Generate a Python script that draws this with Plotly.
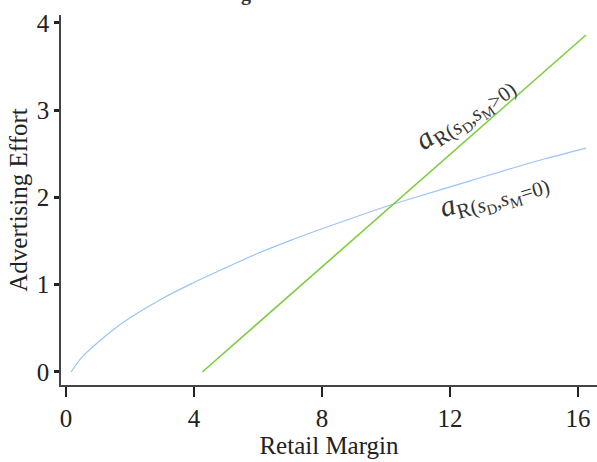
import plotly.graph_objects as go

# Blue curve: a_R(s_D, s_M = 0)
blue_x = [0.16, 0.5, 1, 1.5, 2, 3, 4, 5, 6, 7, 8, 9, 10, 11, 12, 13, 14, 15, 16.25]
blue_y = [0.0, 0.17, 0.34, 0.49, 0.62, 0.84, 1.025, 1.195, 1.36, 1.505, 1.64,
          1.77, 1.895, 2.01, 2.12, 2.23, 2.34, 2.445, 2.565]

# Green line: a_R(s_D, s_M > 0)
green_x = [4.26, 16.25]
green_y = [0.0, 3.86]

x_ticks = [0, 4, 8, 12, 16]
y_ticks = [0, 1, 2, 3, 4]

SERIF = "Liberation Serif"
FS = 25

fig = go.Figure()
fig.add_trace(go.Scatter(x=blue_x, y=blue_y, mode="lines", line=dict(color="#9cc3f7", width=1.2),
                         line_shape="spline", showlegend=False, hoverinfo="skip"))
fig.add_trace(go.Scatter(x=green_x, y=green_y, mode="lines", line=dict(color="#80cc40", width=1.6),
                         showlegend=False, hoverinfo="skip"))

fig.update_layout(
    width=597, height=462,
    margin=dict(l=61, r=0, t=15, b=77),
    plot_bgcolor="white", paper_bgcolor="white",
    font=dict(family=SERIF, color="#222222", size=FS),
    xaxis=dict(
        range=[-0.156, 16.594], tickvals=x_ticks, ticks="outside", ticklen=10, tickwidth=2,
        tickcolor="#222", showline=True, linecolor="#444", linewidth=1.5, showgrid=False,
        zeroline=False, automargin=False, tickfont=dict(family=SERIF, size=FS, color="#222"),
        title=dict(text="Retail Margin", font=dict(family=SERIF, size=FS, color="#222"), standoff=2),
    ),
    yaxis=dict(
        range=[-0.149, 4.089], tickvals=y_ticks, ticks="outside", ticklen=5, tickwidth=2.5,
        tickcolor="#222", showline=True, linecolor="#444", linewidth=1.5, showgrid=False,
        zeroline=False, automargin=False, tickfont=dict(family=SERIF, size=FS, color="#222"),
        title=dict(text="Advertising Effort", font=dict(family=SERIF, size=FS, color="#222"), standoff=2),
    ),
)

fig.add_annotation(
    x=12.5, y=2.96, xref="x", yref="y",
    text="<i>a</i><sub>R(<i>s</i><sub>D</sub>,<i>s</i><sub>M</sub>&gt;0)</sub>",
    showarrow=False, textangle=-35, font=dict(family=SERIF, size=30, color="#333"),
)
fig.add_annotation(
    x=13.4, y=2.02, xref="x", yref="y",
    text="<i>a</i><sub>R(<i>s</i><sub>D</sub>,<i>s</i><sub>M</sub>=0)</sub>",
    showarrow=False, textangle=-16, font=dict(family=SERIF, size=30, color="#333"),
)
# cut-off title fragment at top edge
fig.add_annotation(
    x=0.345, y=1.057, xref="paper", yref="paper", text="<b>g</b>",
    showarrow=False, font=dict(family=SERIF, size=20, color="#333"), yanchor="middle",
)

fig.write_html("out.html")
